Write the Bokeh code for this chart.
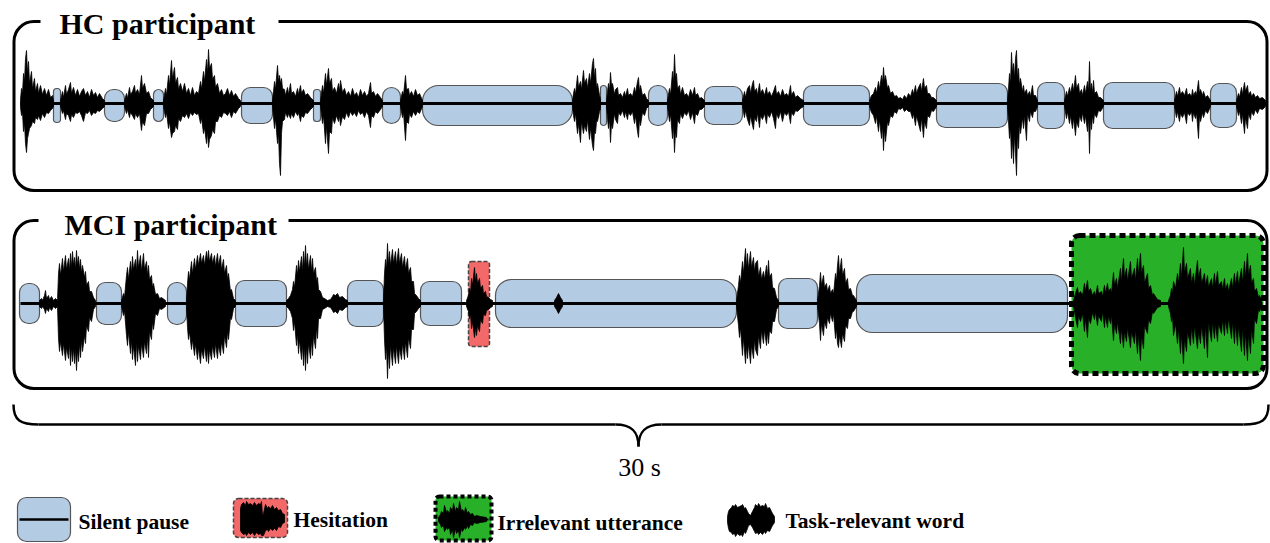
from bokeh.plotting import figure
from bokeh.models import Range1d
from bokeh.core.properties import value
from bokeh.embed import file_html
from bokeh.resources import INLINE

# ---------------- data (x positions along the 30 s recording, amplitudes in px) -------------
hc_pause_start = [53, 104, 153, 241, 313, 382, 422, 600, 648, 704, 803, 936, 1037, 1103, 1210]
hc_pause_end   = [60, 124, 163, 272, 320, 400, 572, 606, 667, 742, 869, 1007, 1064, 1174, 1236]
hc_pause_half  = [17, 16, 16, 18, 16, 18, 20, 20, 20, 19, 20, 22, 23, 23, 22]

mci_pause_start = [19, 96, 167, 235, 347, 420, 495, 778, 856]
mci_pause_end   = [39, 121, 186, 286, 383, 461, 736, 817, 1067]
mci_pause_half  = [20, 21, 21, 23, 23, 22, 24, 25, 29]

mci_hesitation = [468, 489]          # x start / end
mci_irrelevant = [1071, 1263]        # x start / end

# words: (x, amplitude up, amplitude down)
hc_words = [
    [(20,4,4),(21,15,12),(22,10,9),(23,30,28),(24,22,20),(25,45,40),(26,53,49),(27,30,35),(28,42,30),(29,20,25),(31,32,22),(32,15,18),(34,25,20),(35,12,14),(37,20,16),(38,10,12),(40,18,17),(42,9,10),(44,15,14),(46,8,9),(48,14,10),(50,6,7),(52,8,5),(53,3,3)],
    [(60,3,3),(62,12,10),(63,6,7),(65,18,16),(66,9,10),(68,14,12),(70,21,18),(71,10,11),(73,16,14),(75,8,9),(77,14,10),(79,7,8),(81,12,12),(83,15,18),(85,8,9),(87,12,10),(89,6,7),(91,14,12),(93,8,9),(95,11,10),(97,6,7),(99,10,8),(102,5,5),(104,3,3)],
    [(124,3,3),(126,10,10),(127,5,6),(129,16,14),(130,9,9),(132,12,12),(134,18,16),(135,10,10),(137,14,14),(139,9,10),(141,28,27),(142,15,18),(144,20,22),(146,10,10),(148,12,10),(150,6,6),(153,3,3)],
    [(163,3,3),(165,15,14),(166,8,9),(168,28,25),(169,18,18),(171,43,34),(172,25,30),(174,36,28),(175,20,22),(177,26,26),(178,14,15),(180,20,18),(182,12,12),(184,20,14),(186,10,10),(188,15,15),(190,8,9),(192,16,12),(194,8,9),(196,12,11),(198,10,10),(200,22,20),(201,14,14),(203,32,30),(204,22,24),(206,44,40),(207,30,28),(208,54,44),(209,35,36),(211,40,32),(212,24,26),(214,28,30),(215,16,18),(217,20,18),(219,10,12),(221,14,14),(223,8,9),(225,10,10),(227,15,12),(229,8,8),(231,13,14),(233,7,8),(235,10,10),(238,5,5),(240,3,3)],
    [(272,3,3),(273,12,14),(274,22,25),(275,14,15),(277,38,40),(278,22,30),(279,28,60),(280,20,72),(281,25,30),(282,15,18),(284,14,16),(285,8,9),(287,16,14),(288,9,10),(290,20,15),(291,10,10),(293,12,14),(295,7,8),(297,15,12),(298,9,9),(300,18,18),(301,10,12),(303,14,14),(305,8,9),(307,10,10),(310,6,6),(313,3,3)],
    [(320,3,3),(322,18,20),(323,10,12),(325,30,40),(326,18,22),(328,35,50),(329,20,28),(331,25,30),(332,12,14),(334,16,20),(336,10,12),(338,20,18),(339,12,12),(340,23,22),(342,11,13),(344,15,16),(346,8,9),(348,12,14),(350,7,8),(352,15,12),(354,8,9),(356,11,13),(358,6,7),(360,14,11),(362,8,9),(364,12,14),(366,7,8),(368,10,12),(370,21,24),(371,10,12),(373,12,14),(375,7,8),(377,10,10),(380,6,6),(382,3,3)],
    [(400,3,3),(402,12,14),(403,8,9),(405,28,37),(406,14,18),(408,15,20),(409,8,10),(411,12,14),(413,7,8),(415,14,12),(417,8,8),(419,10,10),(422,3,3)],
    [(572,3,3),(573,10,12),(574,15,18),(575,9,10),(577,28,30),(578,16,20),(580,22,39),(581,14,18),(583,33,30),(584,20,22),(586,25,28),(587,15,16),(589,30,36),(590,20,24),(592,40,42),(593,45,47),(594,25,28),(595,35,30),(596,15,18),(597,20,18),(599,8,8),(600,5,5)],
    [(606,3,3),(607,12,15),(608,20,25),(609,12,14),(610,31,39),(611,18,20),(612,20,25),(614,9,10),(615,14,16),(617,16,20),(618,8,9),(620,10,12),(622,6,7),(624,12,14),(625,7,8),(627,15,16),(628,8,9),(630,10,12),(632,7,8),(634,16,20),(635,10,12),(637,22,28),(638,26,34),(639,12,15),(640,18,22),(642,8,9),(644,10,12),(646,5,5),(648,3,3)],
    [(667,3,3),(669,15,18),(670,8,10),(672,32,35),(673,20,22),(674,49,49),(675,25,28),(676,30,34),(677,15,16),(679,18,20),(680,9,10),(682,16,15),(684,8,9),(686,10,12),(688,6,7),(690,14,16),(692,8,9),(694,16,20),(695,8,10),(697,10,12),(699,5,6),(701,6,6),(704,3,3)],
    [(742,3,3),(744,12,14),(745,6,7),(747,15,16),(749,18,22),(750,10,12),(752,20,22),(753,23,26),(754,12,14),(756,15,18),(757,8,9),(759,20,24),(760,10,12),(762,14,16),(764,8,10),(766,16,20),(767,9,10),(769,12,14),(771,7,8),(773,12,15),(775,18,25),(776,9,10),(778,12,15),(780,7,8),(782,14,18),(784,8,9),(786,10,12),(788,7,8),(790,18,20),(791,8,9),(793,12,12),(795,6,7),(797,8,8),(800,5,5),(803,3,3)],
    [(869,3,3),(871,8,9),(873,10,12),(875,16,20),(876,10,12),(878,22,28),(879,14,16),(881,28,35),(882,20,22),(883,36,47),(884,22,25),(885,28,38),(887,15,18),(888,18,22),(890,10,12),(892,12,14),(894,7,8),(896,8,10),(898,5,5),(900,6,6),(902,4,4),(904,8,8),(906,5,6),(908,10,8),(910,7,8),(912,14,15),(913,9,10),(915,18,22),(916,10,12),(918,16,20),(920,20,28),(921,12,14),(923,25,34),(924,15,18),(926,18,25),(927,10,12),(929,10,14),(931,6,7),(933,6,8),(936,3,3)],
    [(1007,3,3),(1008,15,18),(1009,30,35),(1010,20,25),(1011,51,55),(1012,30,35),(1013,40,60),(1014,25,30),(1015,45,50),(1016,53,72),(1017,25,30),(1018,35,45),(1019,18,20),(1020,25,30),(1022,12,14),(1023,18,25),(1024,10,12),(1026,14,37),(1027,8,10),(1029,12,18),(1030,7,8),(1032,18,14),(1033,8,8),(1035,8,8),(1037,3,3)],
    [(1064,3,3),(1066,12,15),(1067,7,8),(1069,16,20),(1070,10,12),(1072,20,25),(1073,12,14),(1075,28,32),(1076,15,18),(1078,20,24),(1079,10,12),(1081,14,18),(1082,8,9),(1084,18,20),(1085,10,12),(1087,22,28),(1088,12,14),(1089,42,50),(1090,12,14),(1091,20,26),(1092,10,12),(1093,23,20),(1094,10,10),(1096,12,14),(1098,6,7),(1100,6,8),(1103,3,3)],
    [(1174,3,3),(1176,12,14),(1177,7,8),(1179,16,18),(1180,9,10),(1182,12,14),(1184,8,9),(1186,15,20),(1187,8,9),(1189,10,12),(1191,7,8),(1192,14,18),(1193,8,9),(1195,12,15),(1196,8,9),(1198,23,35),(1199,10,12),(1200,14,18),(1202,8,9),(1203,12,14),(1205,6,7),(1207,8,10),(1210,3,3)],
    [(1236,3,3),(1238,10,12),(1239,6,7),(1241,16,20),(1242,9,10),(1244,21,30),(1245,12,14),(1247,18,25),(1248,9,10),(1250,12,16),(1251,7,8),(1253,10,12),(1255,6,6),(1257,8,10),(1259,5,5),(1262,6,6),(1265,3,3)],
]

mci_words = [
    [(39,3,3),(41,5,5),(42,3,3),(44,8,6),(45,13,10),(46,5,5),(48,8,8),(49,4,4),(51,7,7),(53,3,3),(55,5,5),(57,3,3)],
    [(57,3,3),(58,30,35),(59,40,48),(60,28,38),(62,45,52),(63,32,40),(65,48,57),(66,34,44),(68,45,55),(69,33,40),(70,50,62),(71,36,44),(72,52,58),(73,38,44),(74,46,60),(75,34,45),(76,53,67),(77,38,46),(78,47,58),(79,34,40),(80,44,54),(81,30,36),(82,38,48),(84,26,32),(85,32,40),(86,18,22),(88,22,28),(89,12,14),(91,12,18),(93,6,6),(95,3,3)],
    [(121,3,3),(123,10,12),(124,6,7),(126,28,32),(127,36,42),(128,24,28),(130,42,50),(131,30,36),(132,47,56),(133,34,42),(135,44,62),(136,32,38),(137,53,58),(138,36,42),(140,48,56),(141,32,40),(143,50,54),(144,34,38),(146,42,50),(147,28,32),(148,38,54),(149,24,28),(151,28,36),(152,16,18),(153,20,26),(155,9,10),(157,10,12),(159,5,5),(161,6,6),(165,3,3)],
    [(186,3,3),(187,20,24),(188,32,36),(189,24,28),(191,42,46),(192,30,36),(194,45,52),(195,34,40),(197,48,56),(198,38,44),(200,50,60),(201,40,46),(203,48,55),(204,38,42),(206,52,58),(207,42,44),(208,53,60),(209,42,46),(211,50,56),(212,40,42),(214,48,54),(215,37,40),(217,50,55),(218,38,42),(220,48,52),(221,34,38),(223,44,50),(224,30,32),(226,38,44),(227,24,28),(228,30,36),(230,12,14),(231,14,16),(233,5,5),(235,3,3)],
    [(286,3,3),(288,5,5),(290,8,8),(292,14,15),(293,22,27),(294,16,18),(296,38,42),(297,28,30),(298,43,50),(299,32,36),(301,47,56),(302,32,40),(303,52,62),(304,36,42),(305,58,67),(306,36,42),(307,50,60),(308,34,40),(310,48,55),(311,32,36),(312,45,52),(313,30,32),(315,36,45),(316,22,24),(317,26,35),(318,14,15),(320,12,15),(322,6,6),(324,5,5),(327,3,3),(330,4,4),(332,7,7),(333,9,9),(335,8,8),(337,10,10),(339,6,6),(342,7,7),(345,4,4),(347,3,3)],
    [(383,3,3),(384,30,36),(385,44,56),(386,34,42),(387,60,75),(388,38,46),(389,52,65),(390,38,42),(392,54,62),(393,40,44),(395,52,60),(396,38,42),(398,55,60),(399,40,44),(401,50,56),(402,36,40),(404,47,56),(405,34,38),(407,45,54),(408,30,34),(410,36,45),(411,22,26),(413,22,26),(414,10,10),(416,8,8),(418,5,5),(420,3,3)],
    [(466,3,3),(468,8,8),(469,15,15),(470,10,10),(471,25,25),(472,18,18),(474,36,34),(475,22,24),(476,30,32),(477,20,22),(479,25,28),(480,15,16),(482,18,20),(483,10,11),(485,12,12),(486,7,7),(488,6,6),(490,4,4),(492,3,3)],
    [(554,3,3),(556,6,6),(558,10,10),(560,6,6),(562,3,3)],
    [(736,3,3),(738,18,22),(739,28,34),(740,20,24),(742,42,52),(743,30,34),(745,55,60),(746,36,42),(747,50,55),(748,34,40),(750,52,60),(751,36,42),(753,46,55),(754,32,36),(755,40,46),(757,43,52),(758,27,32),(760,36,45),(761,24,27),(763,32,40),(764,24,26),(766,38,42),(767,26,28),(768,43,40),(769,26,27),(771,30,30),(772,16,18),(774,15,18),(776,6,6),(778,3,3)],
    [(817,3,3),(819,18,20),(820,31,37),(821,18,20),(823,28,32),(824,16,18),(826,20,25),(827,12,14),(829,18,20),(830,10,10),(832,14,18),(833,9,10),(835,30,35),(836,22,25),(837,38,40),(838,48,44),(839,30,32),(841,45,44),(842,28,30),(844,35,38),(845,20,22),(847,25,25),(848,14,15),(850,15,15),(852,8,8),(853,8,8),(856,3,3)],
    [(1073,3,3),(1075,10,14),(1077,16,24),(1078,9,12),(1080,12,18),(1082,8,10),(1084,20,28),(1085,12,14),(1087,23,34),(1088,12,14),(1090,15,20),(1092,8,9),(1094,12,16),(1095,7,8),(1097,18,22),(1098,10,12),(1101,12,18),(1102,7,8),(1104,18,24),(1105,10,12),(1107,20,24),(1108,12,12),(1110,15,20),(1111,10,12),(1113,31,37),(1114,18,20),(1116,25,30),(1117,15,18),(1120,35,40),(1121,22,25),(1123,45,44),(1124,25,28),(1126,35,38),(1127,22,24),(1130,42,44),(1131,25,28),(1134,35,40),(1135,22,25),(1137,45,50),(1138,28,30),(1140,50,57),(1141,30,32),(1143,38,45),(1144,20,22),(1147,30,30),(1148,15,16),(1150,18,20),(1152,8,8),(1153,10,10),(1157,4,4),(1160,3,3)],
    [(1168,3,3),(1170,8,10),(1171,15,18),(1172,10,12),(1173,22,32),(1175,15,20),(1177,30,40),(1178,20,25),(1180,40,50),(1181,25,30),(1183,56,60),(1184,30,35),(1186,40,48),(1187,25,28),(1190,35,42),(1191,20,24),(1193,30,40),(1194,18,22),(1197,43,45),(1198,25,28),(1200,35,40),(1201,20,22),(1204,30,45),(1205,18,20),(1207,28,54),(1208,16,18),(1211,25,38),(1212,15,18),(1214,30,35),(1215,18,20),(1217,32,38),(1218,18,20),(1221,22,30),(1222,14,16),(1224,25,32),(1225,14,16),(1227,20,30),(1228,12,14),(1231,25,35),(1232,15,18),(1234,30,40),(1235,18,20),(1237,32,42),(1238,18,22),(1241,35,48),(1242,20,24),(1244,42,52),(1245,25,28),(1247,50,57),(1248,28,30),(1250,38,50),(1251,20,25),(1253,25,40),(1254,12,15),(1256,15,20),(1258,6,6),(1259,8,8),(1261,3,3)],
]

legend_labels = ["Silent pause", "Hesitation", "Irrelevant utterance", "Task-relevant word"]
legend_hes_blob = [(240,10,12),(241,14,14),(243,16,16),(245,13,15),(246,17,17),(248,14,14),(250,15,16),(252,13,14),(254,16,17),(256,13,14),(258,15,16),(260,14,15),(261,17,17),(262,3,17),(263,5,17),(265,14,12),(267,10,11),(268,12,13),(270,10,10),(272,13,12),(274,9,10),(276,11,12),(278,8,8),(280,9,9),(282,5,5),(284,4,4)]
legend_irr_wave = [(438,2,2),(440,5,5),(441,8,8),(443,6,6),(444,14,12),(446,7,8),(447,9,10),(449,6,8),(450,12,15),(452,9,10),(453,16,18),(455,8,9),(456,12,14),(458,10,11),(459,18,18),(461,8,9),(462,10,12),(464,7,8),(465,12,10),(467,6,6),(468,8,9),(470,5,5),(472,6,6),(474,3,3),(476,4,4),(480,3,3),(486,2,2)]
legend_word_blob = [(727,3,3),(728,8,9),(729,10,12),(731,12,13),(732,14,15),(734,13,14),(735,15,17),(737,12,14),(739,13,16),(741,14,15),(742,15,17),(744,11,12),(745,12,14),(747,8,9),(748,6,6),(750,4,5),(752,8,8),(754,12,12),(755,15,14),(757,13,13),(758,16,15),(760,13,13),(762,14,15),(764,13,12),(765,16,14),(767,11,11),(769,12,12),(771,8,8),(772,6,6),(774,3,3)]

titles = ["HC participant", "MCI participant"]
duration_label = "30 s"

# ---------------- styles -------------
BLUE = "#b4cbe4"
RED = "#f36868"
GREEN = "#28b028"
SERIF = value("Liberation Serif")

HC_C, MCI_C = 103, 303

p = figure(width=1270, height=543, x_range=Range1d(0, 1270), y_range=Range1d(543, 0),
           output_backend="svg", toolbar_location=None, min_border=0,
           x_axis_location=None, y_axis_location=None)
p.grid.visible = False
p.outline_line_color = None
p.background_fill_color = "white"


def polys(words, c):
    xs, ys = [], []
    for w in words:
        x = [q[0] for q in w]
        up = [c - q[1] for q in w]
        dn = [c + q[2] for q in w]
        xs.append(x + x[::-1])
        ys.append(up + dn[::-1])
    return xs, ys


# panel frames
for top, bot, x0, x1, title, tx, base in [(21, 190, 40, 278, titles[0], 59, 23),
                                         (220, 388, 38, 288, titles[1], 64, 224)]:
    p.quad(left=13.5, right=1266.5, top=top, bottom=bot, fill_color=None,
           line_color="black", line_width=3, border_radius=20)
    p.quad(left=x0, right=x1, top=top - 8, bottom=top + 8, fill_color="white", line_color=None)
    p.text(x=[tx], y=[base], text=[title], text_font=SERIF, text_font_style="bold",
           text_font_size="30px", text_baseline="alphabetic", text_color="black")

# pauses
for starts, ends, halves, c in [(hc_pause_start, hc_pause_end, hc_pause_half, HC_C + 2),
                                (mci_pause_start, mci_pause_end, mci_pause_half, MCI_C)]:
    for s, e, h in zip(starts, ends, halves):
        r = int(min((e - s) // 2, 16 if (e - s) > 100 else 9))
        p.quad(left=s, right=e, top=c - h, bottom=c + h, fill_color=BLUE,
               line_color="#555555", line_width=1.2, border_radius=r)

# hesitation & irrelevant utterance boxes
p.quad(left=mci_hesitation[0], right=mci_hesitation[1], top=MCI_C - 42, bottom=MCI_C + 43,
       fill_color=RED, line_color="#444444", line_width=1.5, line_dash="4 2", border_radius=3)
p.quad(left=mci_irrelevant[0], right=mci_irrelevant[1], top=MCI_C - 68, bottom=MCI_C + 70,
       fill_color=GREEN, line_color="black", line_width=5, line_dash="6 4", border_radius=8)

# baselines (noise floor)
p.line([20, 1265], [HC_C, HC_C], line_color="black", line_width=3)
p.line([20, 1262], [MCI_C, MCI_C], line_color="black", line_width=3)

# waveforms
for words, c in [(hc_words, HC_C), (mci_words, MCI_C)]:
    xs, ys = polys(words, c)
    p.patches(xs, ys, fill_color="black", line_color="black", line_width=0.8)

# brace
p.bezier(x0=[13, 615, 661, 1268], y0=[404, 424, 424, 404],
         x1=[38, 638, 638, 1243], y1=[424, 446, 446, 424],
         cx0=[13, 632, 644, 1268], cy0=[420, 424, 424, 420],
         cx1=[20, 638, 638, 1261], cy1=[424, 432, 432, 424],
         line_color="black", line_width=2.5)
p.segment(x0=[38, 661], y0=[424, 424], x1=[615, 1243], y1=[424, 424], line_color="black", line_width=2.5)
p.text(x=[639], y=[467], text=[duration_label], text_font=SERIF, text_font_size="26px",
       text_align="center", text_baseline="middle", text_color="black")

# legend
p.quad(left=17, right=70, top=497, bottom=541, fill_color=BLUE, line_color="#555555",
       line_width=1.2, border_radius=9)
p.line([19, 68], [519, 519], line_color="black", line_width=2.5)
p.quad(left=233, right=287, top=498, bottom=537, fill_color=RED, line_color="#444444",
       line_width=1.5, line_dash="4 2", border_radius=5)
p.quad(left=435, right=491, top=496, bottom=540, fill_color=GREEN, line_color="black",
       line_width=4, line_dash="4 3", border_radius=4)
for blob, c in [(legend_hes_blob, 518), (legend_irr_wave, 519), (legend_word_blob, 519)]:
    xs, ys = polys([blob], c)
    p.patches(xs, ys, fill_color="black", line_color="black", line_width=0.8)
p.line([438, 488], [519, 519], line_color="black", line_width=2)
p.text(x=[78, 293, 497, 785], y=[521, 519, 522, 520], text=legend_labels, text_font=SERIF,
       text_font_style="bold", text_font_size="21.5px", text_baseline="middle", text_color="black")

open("out.html", "w").write(file_html(p, INLINE))
